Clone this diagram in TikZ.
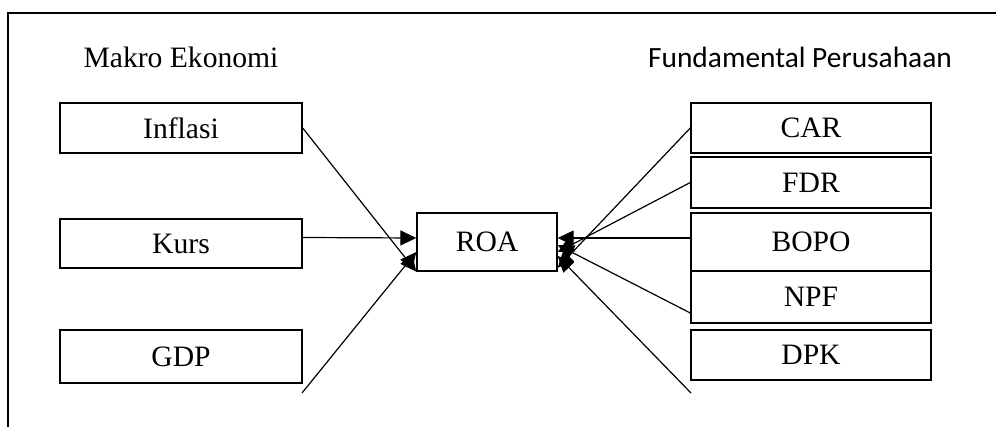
\documentclass[tikz,border=0pt]{standalone}
\usepackage{fontspec}
\setmainfont{Liberation Serif}
\newfontfamily\calibri{Carlito}
\usepackage{tikz}
\usetikzlibrary{arrows.meta}

\begin{document}
\begin{tikzpicture}[x=0.5pt,y=-0.5pt,-{Triangle[length=8pt,width=7.5pt]},line width=0.6pt]
  \tikzstyle{var}=[rectangle,draw,line width=0.7pt,minimum width=121pt,inner sep=0pt,font=\fontsize{14.8}{17}\selectfont]
  \tikzstyle{head}=[inner sep=0pt,font=\fontsize{14.8}{17}\selectfont]

  \clip (0,0) rectangle (996,427);
  \draw[-,line width=0.6pt] (8,440) -- (8,13) -- (1010,13);

  \node[head] (makro) at (181,57) {Makro Ekonomi};
  \node[head,font=\calibri\fontsize{14.7}{17}\selectfont] (fundamental) at (800,57) {Fundamental Perusahaan};

  \node[var,minimum height=25pt] (inflasi) at (181,128) {Inflasi};
  \node[var,minimum height=24.5pt] (kurs) at (181,243.5) {Kurs};
  \node[var,minimum height=26.5pt] (gdp) at (181,356.5) {GDP};

  \node[var,minimum width=70pt,minimum height=29pt] (roa) at (487,242) {ROA};

  \node[var,minimum width=120pt,minimum height=25pt] (car) at (811,128) {CAR};
  \node[var,minimum width=120pt,minimum height=25.5pt] (fdr) at (811,182.5) {FDR};
  \node[var,minimum width=120pt,minimum height=29pt] (bopo) at (811,242) {BOPO};
  \node[var,minimum width=120pt,minimum height=26pt] (npf) at (811,297) {NPF};
  \node[var,minimum width=120pt,minimum height=25pt] (dpk) at (811,355) {DPK};

  \coordinate (gdpend) at (302,393);
  \coordinate (dpkend) at (691,393);

  \draw (inflasi.east) -- (roa.south west);
  \draw ([yshift=3pt]kurs.east) -- ([yshift=2pt]roa.west);
  \draw (gdpend) -- ([yshift=-5pt]roa.west);

  \draw (car.west) -- ([yshift=2pt]roa.south east);
  \draw (fdr.west) -- ([yshift=-5pt]roa.east);
  \draw ([yshift=2pt]bopo.west) -- ([yshift=2pt]roa.east);
  \draw ([yshift=-8pt]npf.west) -- ([yshift=-1.5pt]roa.east);
  \draw (dpkend) -- ([yshift=-7pt]roa.east);

\end{tikzpicture}
\end{document}
